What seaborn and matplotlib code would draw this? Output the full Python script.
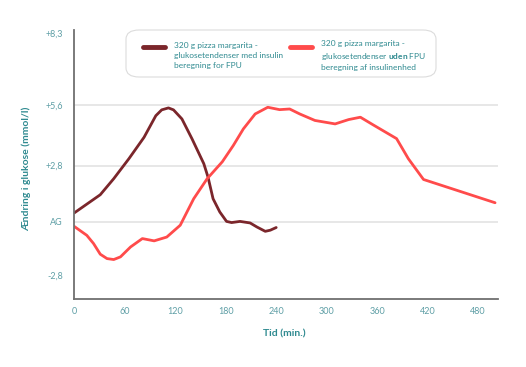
import numpy as np
import pandas as pd
import seaborn as sns
import matplotlib.pyplot as plt
from matplotlib.patches import FancyBboxPatch

# tid (min.) og ændring i glukose (mmol/l)
tid_med = [0, 31, 47, 65, 83, 97, 104, 112, 118, 128, 140, 154, 159, 165, 173, 181, 187, 197, 209, 217, 227, 233, 240]
glu_med = [0.44, 1.35, 2.15, 3.12, 4.11, 5.11, 5.38, 5.47, 5.38, 4.96, 4.04, 2.89, 2.23, 1.15, 0.49, 0.02, -0.04, 0.02, -0.06, -0.27, -0.50, -0.44, -0.30]

tid_uden = [0, 15, 23, 31, 39, 47, 55, 67, 81, 95, 110, 126, 142, 158, 176, 189, 201, 215, 230, 244, 256, 268, 286, 310, 326, 340, 355, 383, 397, 415, 500]
glu_uden = [-0.24, -0.71, -1.14, -1.70, -1.93, -1.98, -1.84, -1.32, -0.88, -1.0, -0.8, -0.18, 1.15, 2.15, 2.98, 3.73, 4.5, 5.19, 5.5, 5.39, 5.42, 5.19, 4.89, 4.73, 4.93, 5.04, 4.69, 4.05, 3.12, 2.11, 0.95]

x_ticks = [0, 60, 120, 180, 240, 300, 360, 420, 480]
y_ticks = [-2.8, 0, 2.8, 5.6, 8.3]
y_labels = ['-2,8', 'AG', '+2,8', '+5,6', '+8,3']

label_med = '320 g pizza margarita -\nglukosetendenser med insulin\nberegning for FPU'
label_uden = '320 g pizza margarita -\nglukosetendenser $\\mathbf{uden}$ FPU\nberegning af insulinenhed'

df = pd.concat([
    pd.DataFrame({'tid': tid_med, 'glukose': glu_med, 'serie': label_med}),
    pd.DataFrame({'tid': tid_uden, 'glukose': glu_uden, 'serie': label_uden}),
])

sns.set_style('white')
plt.rcParams['font.family'] = ['Lato', 'DejaVu Sans']
plt.rcParams['mathtext.fontset'] = 'custom'
plt.rcParams['mathtext.rm'] = 'Lato'
plt.rcParams['mathtext.bf'] = 'Lato:bold'

teal = '#2f8a90'
teal_light = '#5f9fa6'

# y-aksen i originalen er ikke lineær mellem mærkerne
val_pts = [-4.06, -2.8, 0, 2.8, 5.6, 8.3, 8.4]
pos_pts = [0, 24, 77.5, 133.8, 194.5, 267, 269.7]

def fwd(v):
    return np.interp(v, val_pts, pos_pts)

def inv(p):
    return np.interp(p, pos_pts, val_pts)

fig = plt.figure(figsize=(5.26, 3.67), dpi=100)
ax = fig.add_axes([0.141, 0.185, 0.805, 0.733])
ax.set_yscale('function', functions=(fwd, inv))

for y in [0, 2.8, 5.6]:
    ax.axhline(y, color='#e3e3e3', lw=1.2, zorder=0)

sns.lineplot(data=df, x='tid', y='glukose', hue='serie', ax=ax,
             palette=['#7b262b', '#ff4b4b'], linewidth=2, sort=False)

ax.set_xlim(0, 503)
ax.set_ylim(-4.06, 8.4)
ax.set_xticks(x_ticks)
ax.set_yticks(y_ticks)
ax.set_yticklabels(y_labels)
ax.tick_params(colors=teal_light, labelsize=6.5, length=0, pad=8)
ax.tick_params(axis='x', pad=6)
for s in ['top', 'right']:
    ax.spines[s].set_visible(False)
for s in ['left', 'bottom']:
    ax.spines[s].set_color('#707070')
    ax.spines[s].set_linewidth(1.3)

ax.set_xlabel('')
ax.set_ylabel('')
fig.text(0.540, 0.09, 'Tid (min.)', color=teal, fontsize=7.5, fontweight='bold', ha='center', va='center')
fig.text(0.050, 0.54, 'Ændring i glukose (mmol/l)', color=teal, fontsize=7.5, fontweight='bold',
         rotation=90, ha='center', va='center')

# legendens ramme tegnes for sig
box = FancyBboxPatch((126 / 526, 1 - 77 / 367), 310 / 526, 47 / 367,
                     boxstyle='round,pad=0,rounding_size=0.025', transform=fig.transFigure,
                     facecolor='white', edgecolor='#dcdcdc', linewidth=0.8, zorder=4, clip_on=False)
ax.add_patch(box)

leg = ax.legend(loc='upper left', bbox_to_anchor=(143 / 526, 1 - 40 / 367), bbox_transform=fig.transFigure,
                ncol=2, fontsize=6, frameon=False, handlelength=2.6, handletextpad=1.1,
                columnspacing=0.9, borderpad=0, borderaxespad=0, labelcolor=teal)
leg.set_zorder(6)
for t in leg.get_texts():
    t.set_linespacing(1.45)
# stregerne flugter med første tekstlinje
for line in leg.get_lines():
    line.set_linewidth(3.5)
    line.set_solid_capstyle('round')
    line.set_ydata(np.asarray(line.get_ydata()) + 6.5)

fig.savefig('out.png', dpi=100)
